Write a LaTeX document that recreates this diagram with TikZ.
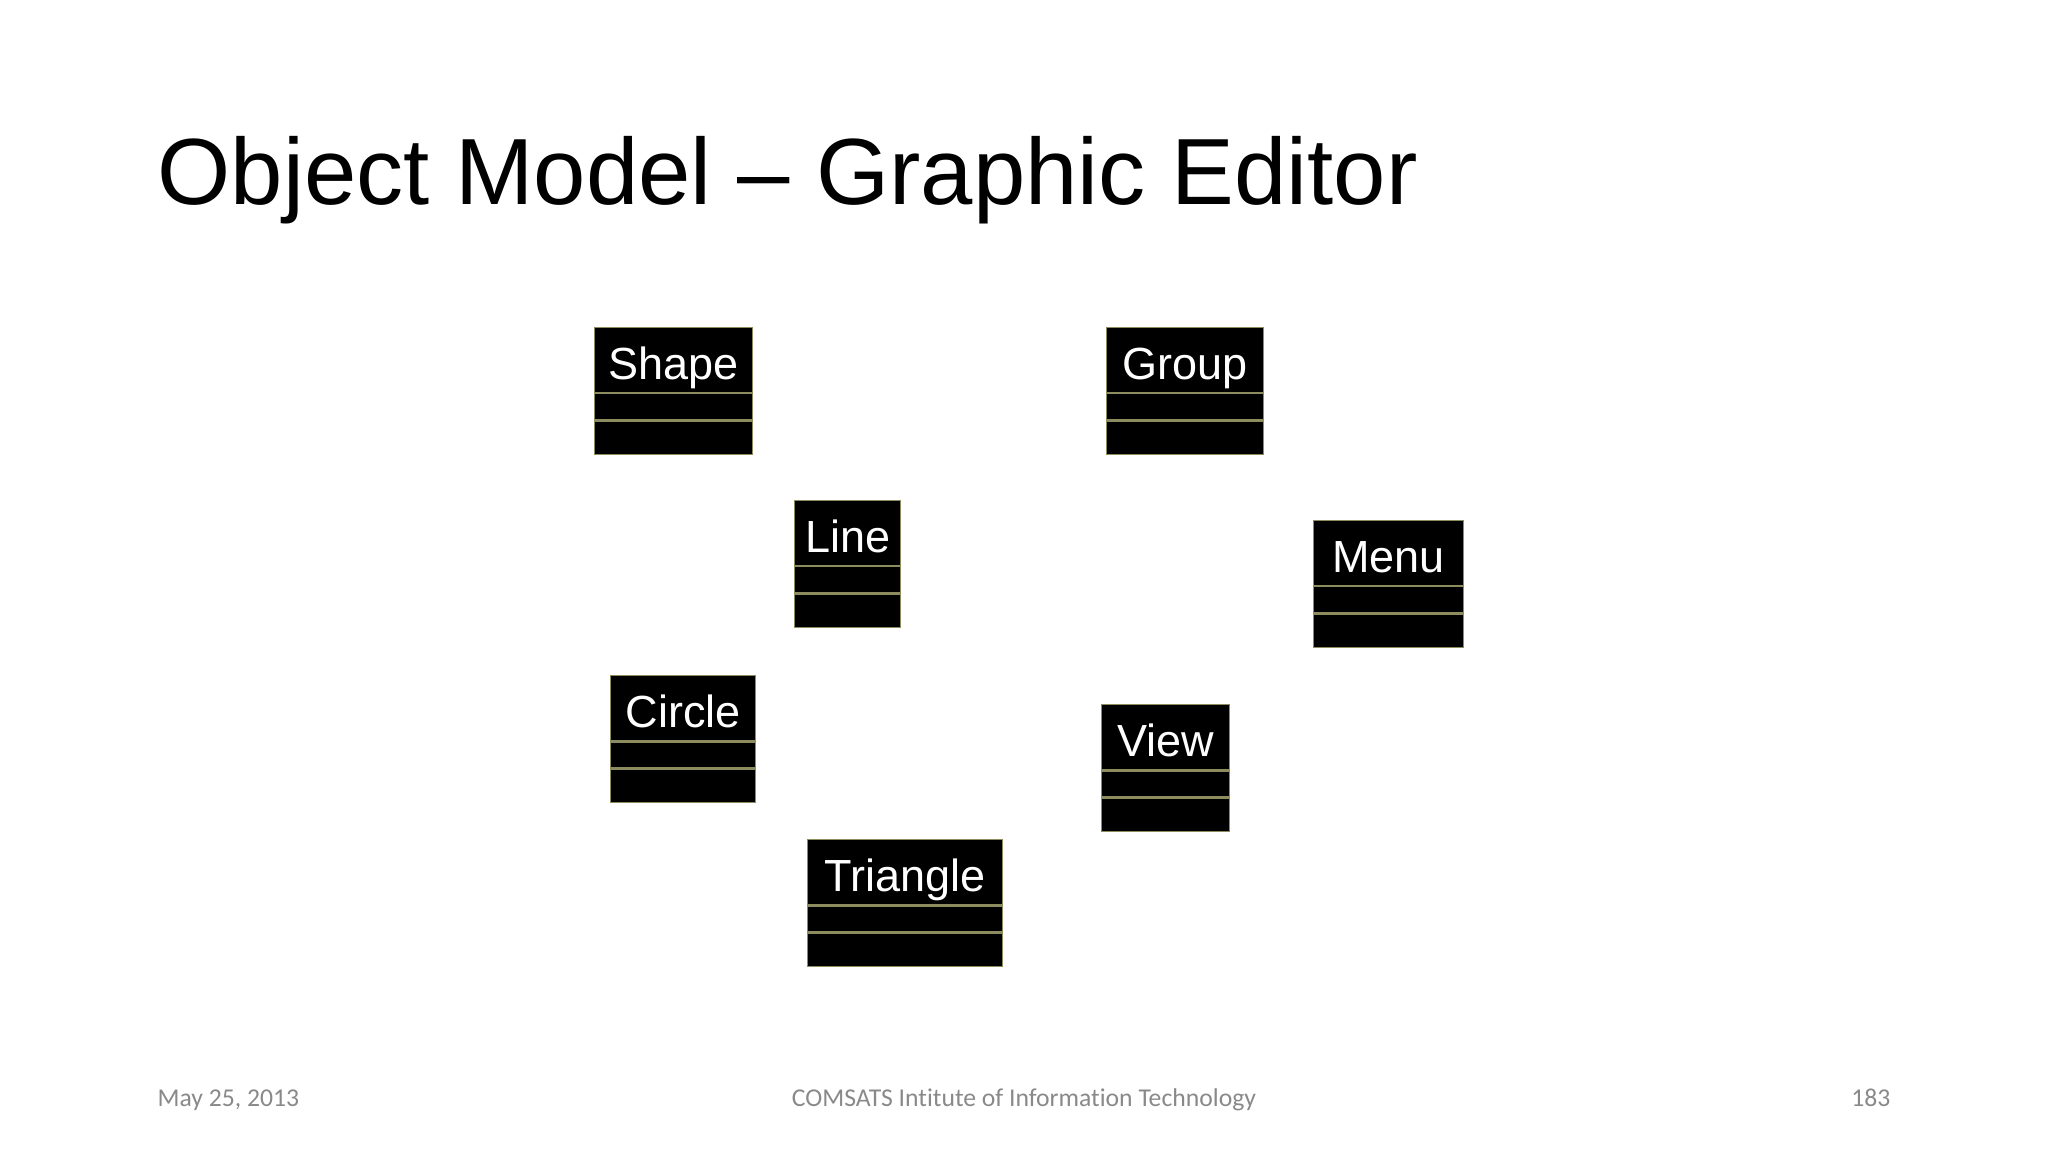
\documentclass[tikz,border=0pt]{standalone}
\usepackage{fontspec}
\setmainfont{Liberation Sans}
\newfontfamily\footfont[Ligatures=NoCommon]{Carlito}
\usetikzlibrary{positioning}
\definecolor{edgeol}{RGB}{140,140,95}
\definecolor{footgray}{RGB}{137,137,137}
\tikzset{
    clsname/.style={rectangle, fill=black, draw=edgeol, line width=0.35pt,
                    text=white, font=\fontsize{12.8}{15}\selectfont,
                    minimum height=0.65cm, inner sep=0pt,
                    text height=11.2pt, text depth=0pt, anchor=north west},
    clsattr/.style={rectangle, fill=black, draw=edgeol, line width=0.35pt,
                    minimum height=0.26cm, inner sep=0pt},
    clsops/.style={rectangle, fill=black, draw=edgeol, line width=0.35pt,
                    minimum height=0.33cm, inner sep=0pt},
    foot/.style={font=\footfont\fontsize{7.3}{9}\selectfont, text=footgray,
                    inner sep=0pt, anchor=base}}

\begin{document}
\begin{tikzpicture}[x=0.01cm, y=-0.01cm]
    \useasboundingbox (0,0) rectangle (2048,1152);
    \node[anchor=base west, inner sep=0pt, font=\fontsize{26.75}{31}\selectfont]
        (title) at (157,205) {Object Model -- Graphic Editor};

    % classes
    \node[clsname, minimum width=1.58cm] (shape) at (594,327) {Shape};
    \node[clsattr, minimum width=1.58cm, below=0pt of shape] (shapeattr) {};
    \node[clsops, minimum width=1.58cm, below=0pt of shapeattr] (shapeops) {};

    \node[clsname, minimum width=1.57cm] (group) at (1106,327) {Group};
    \node[clsattr, minimum width=1.57cm, below=0pt of group] (groupattr) {};
    \node[clsops, minimum width=1.57cm, below=0pt of groupattr] (groupops) {};

    \node[clsname, minimum width=1.06cm] (line) at (794,500) {Line};
    \node[clsattr, minimum width=1.06cm, below=0pt of line] (lineattr) {};
    \node[clsops, minimum width=1.06cm, below=0pt of lineattr] (lineops) {};

    \node[clsname, minimum width=1.50cm] (menu) at (1313,520) {Menu};
    \node[clsattr, minimum width=1.50cm, below=0pt of menu] (menuattr) {};
    \node[clsops, minimum width=1.50cm, below=0pt of menuattr] (menuops) {};

    \node[clsname, minimum width=1.45cm] (circle) at (610,675) {Circle};
    \node[clsattr, minimum width=1.45cm, below=0pt of circle] (circleattr) {};
    \node[clsops, minimum width=1.45cm, below=0pt of circleattr] (circleops) {};

    \node[clsname, minimum width=1.28cm] (view) at (1101,704) {View};
    \node[clsattr, minimum width=1.28cm, below=0pt of view] (viewattr) {};
    \node[clsops, minimum width=1.28cm, below=0pt of viewattr] (viewops) {};

    \node[clsname, minimum width=1.95cm] (triangle) at (807,839) {Triangle};
    \node[clsattr, minimum width=1.95cm, below=0pt of triangle] (triangleattr) {};
    \node[clsops, minimum width=1.95cm, below=0pt of triangleattr] (triangleops) {};

    % footer
    \node[foot, anchor=base west] (date) at (157,1106) {May 25, 2013};
    \node[foot] (inst) at (1024,1106) {COMSATS Intitute of Information Technology};
    \node[foot, anchor=base east] (page) at (1891,1106) {183};
\end{tikzpicture}
\end{document}
